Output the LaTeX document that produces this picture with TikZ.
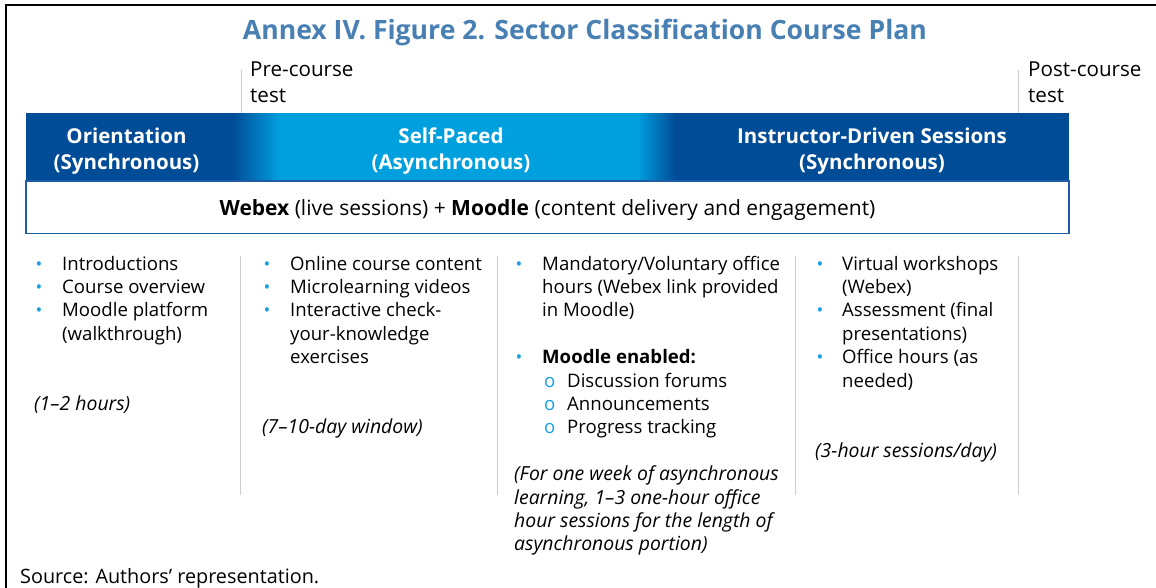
\documentclass[tikz,border=0pt]{standalone}
\usepackage{fontspec}
\setmainfont{Open Sans}
\usepackage{array}
\usetikzlibrary{positioning}
\definecolor{darkband}{RGB}{0,76,151}
\definecolor{lightband}{RGB}{0,160,223}
\definecolor{titleblue}{RGB}{72,128,180}
\definecolor{boxline}{RGB}{30,92,168}
\definecolor{bulblue}{RGB}{24,160,226}
\definecolor{sepgray}{RGB}{205,205,205}
\newcommand{\bul}{\hspace{1.5pt}{\color{bulblue}\fontsize{18}{18}\selectfont\textbullet}}
\newcommand{\subbul}{\makebox[25pt][l]{\hspace{2pt}\color{bulblue}o}}
\newcommand{\note}[1]{\multicolumn{2}{@{}l@{}}{\fontsize{19.4}{23.4}\selectfont\itshape #1}}
\tikzset{
  head/.style={anchor=base,inner sep=0pt,text=white,font=\fontsize{20.5}{26}\selectfont\bfseries},
  col/.style={anchor=base west,inner sep=0pt,font=\fontsize{18.6}{23.4}\selectfont},
  testlabel/.style={anchor=base west,inner sep=0pt,font=\fontsize{20.6}{26.5}\selectfont},
  sep/.style={sepgray,line width=1pt},
}

\begin{document}
\begin{tikzpicture}[x=1pt,y=-1pt]
\useasboundingbox (0,0) rectangle (1156,588);
% frame
\draw[line width=2pt] (6,588) -- (6,5.5) -- (1156,5.5);
\node[anchor=base,inner sep=0pt,text=titleblue,font=\fontsize{26.6}{30}\selectfont\bfseries] (title) at (585,39.5) {Annex IV. Figure 2. Sector Classification Course Plan};

% test markers
\draw[sep] (241,70) -- (241,114);
\draw[sep] (1018,70) -- (1018,114);
\node[testlabel] (pre) at (250,76.5) {\begin{tabular}[t]{@{}l@{}}Pre-course\\test\end{tabular}};
\node[testlabel] (post) at (1028,76.5) {\begin{tabular}[t]{@{}l@{}}Post-course\\test\end{tabular}};

% band
\fill[darkband] (26,113.5) rectangle (233,181);
\shade[left color=darkband,right color=lightband] (232.5,113.5) rectangle (280,181);
\fill[lightband] (279.5,113.5) rectangle (638,181);
\shade[left color=lightband,right color=darkband] (637.5,113.5) rectangle (675,181);
\fill[darkband] (674.5,113.5) rectangle (1069,181);
\node[head] (orient) at (126.5,143.3) {\begin{tabular}[t]{@{}c@{}}Orientation\\(Synchronous)\end{tabular}};
\node[head] (self) at (451,143.3) {\begin{tabular}[t]{@{}c@{}}Self-Paced\\(Asynchronous)\end{tabular}};
\node[head] (instr) at (872,143.3) {\begin{tabular}[t]{@{}c@{}}Instructor-Driven Sessions\\(Synchronous)\end{tabular}};

\draw[boxline,line width=1.5pt,fill=white] (26,181) rectangle (1069,233.5);
\node[anchor=base,inner sep=0pt,font=\fontsize{21}{24}\selectfont] (tools) at (547.5,215) {\textbf{Webex} (live sessions) + \textbf{Moodle} (content delivery and engagement)};

% columns
\draw[sep] (240,256) -- (240,495);
\draw[sep] (497,256) -- (497,495);
\draw[sep] (795,256) -- (795,495);
\draw[sep] (1018,256) -- (1018,495);

\node[col] (orientlist) at (34,270) {\begin{tabular}[t]{@{}p{28pt}@{}l@{}}
\bul & Introductions\\
\bul & Course overview\\
\bul & Moodle platform\\
 & (walkthrough)\\
 & \\
 & \\
\note{(1–2 hours)}
\end{tabular}};

\node[col] (selflist) at (262,270) {\begin{tabular}[t]{@{}p{28pt}@{}l@{}}
\bul & Online course content\\
\bul & Microlearning videos\\
\bul & Interactive check-\\
 & your-knowledge\\
 & exercises\\
 & \\
 & \\
\note{(7–10-day window)}
\end{tabular}};

\node[col] (officelist) at (514,270) {\begin{tabular}[t]{@{}p{28pt}@{}l@{}}
\bul & Mandatory/Voluntary office\\
 & hours (Webex link provided\\
 & in Moodle)\\
 & \\
\bul & \textbf{Moodle enabled:}\\
 & \subbul Discussion forums\\
 & \subbul Announcements\\
 & \subbul Progress tracking\\
 & \\
\note{(For one week of asynchronous}\\
\note{learning, 1–3 one-hour office}\\
\note{hour sessions for the length of}\\
\note{asynchronous portion)}
\end{tabular}};

\node[col] (instrlist) at (815,270) {\begin{tabular}[t]{@{}p{27pt}@{}l@{}}
\bul & Virtual workshops\\
 & (Webex)\\
\bul & Assessment (final\\
 & presentations)\\
\bul & Office hours (as\\
 & needed)\\
 & \\
 & \\
\note{(3-hour sessions/day)}
\end{tabular}};

\node[anchor=base west,inner sep=0pt,font=\fontsize{19.8}{22}\selectfont] (source) at (20,583) {Source: Authors’ representation.};
\end{tikzpicture}
\end{document}
